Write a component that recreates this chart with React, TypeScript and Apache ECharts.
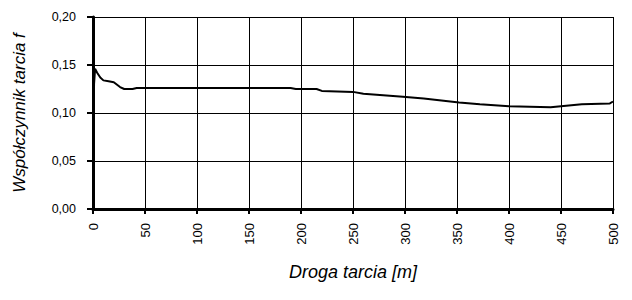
import React, { useEffect, useRef } from "react";
import * as echarts from "echarts";

const distance = [0, 1, 2, 4, 7, 10, 15, 20, 26, 30, 38, 42, 190, 195, 215, 220, 250, 260, 298, 318, 352, 372, 400, 440, 470, 497, 500];
const friction = [0.0, 0.13, 0.146, 0.142, 0.137, 0.134, 0.133, 0.132, 0.127, 0.125, 0.125, 0.126, 0.126, 0.125, 0.125, 0.123, 0.122, 0.12, 0.117, 0.115, 0.111, 0.109, 0.107, 0.106, 0.109, 0.11, 0.112];

const fmt = (v: number) => v.toFixed(2).replace(".", ",");

export default function App() {
  const ref = useRef<HTMLDivElement>(null);
  useEffect(() => {
    if (!ref.current) return;
    const chart = echarts.init(ref.current, null, { renderer: "svg" });
    const font = "Liberation Sans, Arial, sans-serif";
    chart.setOption({
      animation: false,
      backgroundColor: "#ffffff",
      textStyle: { fontFamily: font },
      grid: { left: 93, right: 19, top: 17, bottom: 91 },
      xAxis: {
        type: "value",
        min: 0,
        max: 500,
        interval: 50,
        name: "Droga tarcia [m]",
        nameLocation: "middle",
        nameGap: 54,
        nameTextStyle: { fontSize: 18, fontStyle: "italic", color: "#000", fontFamily: font },
        axisLine: { show: true, lineStyle: { color: "#000", width: 3 } },
        axisTick: { show: true, length: 5, lineStyle: { color: "#000", width: 2 } },
        axisLabel: { rotate: 90, color: "#000", fontSize: 13, margin: 14, fontFamily: font },
        splitLine: { show: true, lineStyle: { color: "#000", width: 1 } },
      },
      yAxis: {
        type: "value",
        min: 0,
        max: 0.2,
        interval: 0.05,
        name: "Współczynnik tarcia f",
        nameLocation: "middle",
        nameGap: 65,
        nameTextStyle: { fontSize: 17, fontStyle: "italic", color: "#000", fontFamily: font },
        axisLine: { show: true, lineStyle: { color: "#000", width: 3 } },
        axisTick: { show: true, length: 6, lineStyle: { color: "#000", width: 2 } },
        axisLabel: { color: "#000", fontSize: 12.5, margin: 17, formatter: fmt, fontFamily: font },
        splitLine: { show: true, lineStyle: { color: "#000", width: 1 } },
      },
      series: [
        {
          type: "line",
          data: distance.map((d, i) => [d, friction[i]]),
          showSymbol: false,
          lineStyle: { color: "#000", width: 2 },
        },
      ],
    });
    return () => chart.dispose();
  }, []);
  return <div ref={ref} style={{ width: 632, height: 300, margin: -8 }} />;
}
